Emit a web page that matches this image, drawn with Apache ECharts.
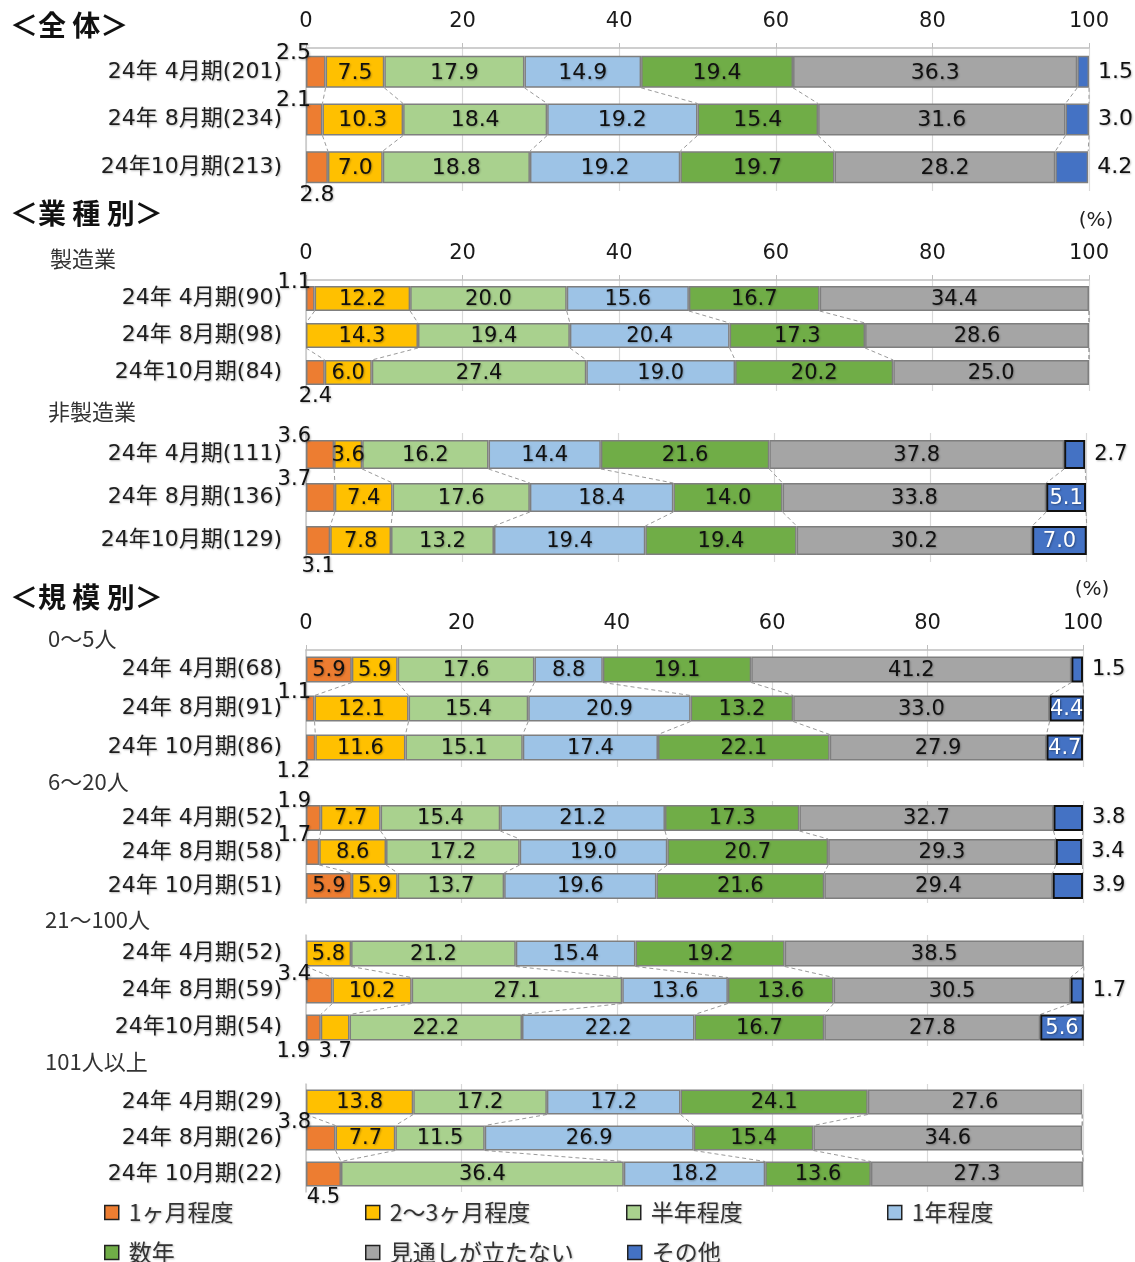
<!DOCTYPE html>
<html>
<head>
<meta charset="utf-8">
<script src="https://cdn.jsdelivr.net/npm/echarts@6/dist/echarts.min.js"></script>
<style>
  html, body { margin: 0; padding: 0; background: #fff; }
  #chart { width: 1135px; height: 1262px; }
</style>
</head>
<body>
<div id="chart"></div>
<script>
// 回答区分
const seriesNames = ['1ヶ月程度', '2〜3ヶ月程度', '半年程度', '1年程度', '数年', '見通しが立たない', 'その他'];
const seriesColors = ['#ED7D31', '#FFC000', '#A9D18E', '#9DC3E6', '#70AD47', '#A5A5A5', '#4472C4'];

// 全体
const catsAll = ['24年 4月期(201)', '24年 8月期(234)', '24年10月期(213)'];
const valsAll = [
  [2.5, 7.5, 17.9, 14.9, 19.4, 36.3, 1.5],
  [2.1, 10.3, 18.4, 19.2, 15.4, 31.6, 3.0],
  [2.8, 7.0, 18.8, 19.2, 19.7, 28.2, 4.2]
];

// 業種別
const catsMfg = ['24年 4月期(90)', '24年 8月期(98)', '24年10月期(84)'];
const valsMfg = [
  [1.1, 12.2, 20.0, 15.6, 16.7, 34.4, 0],
  [0, 14.3, 19.4, 20.4, 17.3, 28.6, 0],
  [2.4, 6.0, 27.4, 19.0, 20.2, 25.0, 0]
];
const catsNonMfg = ['24年 4月期(111)', '24年 8月期(136)', '24年10月期(129)'];
const valsNonMfg = [
  [3.6, 3.6, 16.2, 14.4, 21.6, 37.8, 2.7],
  [3.7, 7.4, 17.6, 18.4, 14.0, 33.8, 5.1],
  [3.1, 7.8, 13.2, 19.4, 19.4, 30.2, 7.0]
];

// 規模別
const catsS1 = ['24年 4月期(68)', '24年 8月期(91)', '24年 10月期(86)'];
const valsS1 = [
  [5.9, 5.9, 17.6, 8.8, 19.1, 41.2, 1.5],
  [1.1, 12.1, 15.4, 20.9, 13.2, 33.0, 4.4],
  [1.2, 11.6, 15.1, 17.4, 22.1, 27.9, 4.7]
];
const catsS2 = ['24年 4月期(52)', '24年 8月期(58)', '24年 10月期(51)'];
const valsS2 = [
  [1.9, 7.7, 15.4, 21.2, 17.3, 32.7, 3.8],
  [1.7, 8.6, 17.2, 19.0, 20.7, 29.3, 3.4],
  [5.9, 5.9, 13.7, 19.6, 21.6, 29.4, 3.9]
];
const catsS3 = ['24年 4月期(52)', '24年 8月期(59)', '24年10月期(54)'];
const valsS3 = [
  [0, 5.8, 21.2, 15.4, 19.2, 38.5, 0],
  [3.4, 10.2, 27.1, 13.6, 13.6, 30.5, 1.7],
  [1.9, 3.7, 22.2, 22.2, 16.7, 27.8, 5.6]
];
const catsS4 = ['24年 4月期(29)', '24年 8月期(26)', '24年 10月期(22)'];
const valsS4 = [
  [0, 13.8, 17.2, 17.2, 24.1, 27.6, 0],
  [3.8, 7.7, 11.5, 26.9, 15.4, 34.6, 0],
  [4.5, 0, 36.4, 18.2, 13.6, 27.3, 0]
];

const axisTicks = [0, 20, 40, 60, 80, 100];

// panel layout
const panels = [
  { cats: catsAll,    vals: valsAll,    top: 48,   height: 143, barW: 32, axis: true,  right: 46, fs: 22, darkOther: false },
  { cats: catsMfg,    vals: valsMfg,    top: 280,  height: 111, barW: 25, axis: true,  right: 46, fs: 21, darkOther: true },
  { cats: catsNonMfg, vals: valsNonMfg, top: 433,  height: 129, barW: 29, axis: false, right: 49, fs: 21, darkOther: true },
  { cats: catsS1,     vals: valsS1,     top: 650,  height: 117, barW: 26, axis: true,  right: 52, fs: 21, darkOther: true },
  { cats: catsS2,     vals: valsS2,     top: 801,  height: 102, barW: 26, axis: false, right: 52, fs: 21, darkOther: true },
  { cats: catsS3,     vals: valsS3,     top: 935,  height: 111, barW: 26, axis: false, right: 52, fs: 21, darkOther: true },
  { cats: catsS4,     vals: valsS4,     top: 1084, height: 108, barW: 25, axis: false, right: 52, fs: 21, darkOther: true }
];

// labels placed under the bar regardless of the default rule
const labelModeOverride = { '5-2-1': 'below' };

const NUM_FONT = '"DejaVu Sans", "Noto Sans CJK JP", sans-serif';
const JP_FONT = '"Noto Sans CJK JP", sans-serif';
const txtShadow = { textShadowColor: 'rgba(0,0,0,0.28)', textShadowBlur: 2, textShadowOffsetX: 1, textShadowOffsetY: 1 };

function labelMode(p, r, s, v, isLast) {
  const key = p + '-' + r + '-' + s;
  if (labelModeOverride[key]) return labelModeOverride[key];
  if (s === 0) return v >= 5 ? 'inside' : (isLast ? (v < 2 ? 'belowLeft' : 'below') : 'above');
  if (s === 6) return v >= 4.3 ? 'insideWhite' : 'right';
  return 'inside';
}

function labelFor(mode, fs) {
  const base = Object.assign({ show: true, fontFamily: NUM_FONT, fontSize: fs, color: '#111111',
    formatter: (d) => Number(d.value).toFixed(1) }, txtShadow);
  switch (mode) {
    case 'inside': return Object.assign(base, { position: 'inside', offset: [0, 1] });
    case 'insideWhite': return Object.assign(base, { position: 'inside', offset: [0, 1], color: '#ffffff', textShadowColor: 'rgba(0,0,0,0.35)' });
    case 'right': return Object.assign(base, { position: 'right', distance: 9 });
    case 'above': return Object.assign(base, { position: [5, -3], align: 'right', verticalAlign: 'middle' });
    case 'below': return Object.assign(base, { position: 'bottom', distance: 1 });
    case 'belowLeft': return Object.assign(base, { position: [4, '100%'], align: 'right', verticalAlign: 'top', offset: [0, 1] });
  }
  return base;
}

const grids = [], xAxes = [], yAxes = [], series = [];

panels.forEach((p, pi) => {
  grids.push({ left: 306, right: p.right, top: p.top, height: p.height, containLabel: false });
  xAxes.push({
    gridIndex: pi, type: 'value', min: 0, max: 100, interval: 20, position: 'top',
    axisLine: { show: p.axis, lineStyle: { color: '#bfbfbf', width: 1.5 } },
    axisTick: { show: p.axis, length: 5, lineStyle: { color: '#bfbfbf' } },
    axisLabel: { show: p.axis, margin: 16, fontFamily: NUM_FONT, fontSize: 21, color: '#1a1a1a',
      formatter: (v) => axisTicks.includes(v) ? String(v) : '' },
    splitLine: { show: true, lineStyle: { color: '#d9d9d9', width: 1.2 } }
  });
  yAxes.push({
    gridIndex: pi, type: 'category', data: p.cats, inverse: true,
    axisLine: { show: true, lineStyle: { color: '#c8c8c8', width: 1.5 } },
    axisTick: { show: false },
    axisLabel: Object.assign({ margin: 24, fontFamily: NUM_FONT, fontSize: 22, color: '#1e1e1e' }, txtShadow)
  });

  const n = p.vals.length;
  seriesNames.forEach((name, s) => {
    series.push({
      name, type: 'bar', stack: 'panel' + pi, xAxisIndex: pi, yAxisIndex: pi,
      barWidth: p.barW, z: 3,
      itemStyle: {
        color: seriesColors[s],
        borderColor: (s === 6 && p.darkOther) ? '#111111' : '#7f7f7f',
        borderWidth: (s === 6 && p.darkOther) ? 2 : 1.5
      },
      emphasis: { disabled: true },
      data: p.vals.map((row, r) => {
        const v = row[s];
        if (!v) return { value: '-', label: { show: false } };
        return { value: v, label: labelFor(labelMode(pi, r, s, v, r === n - 1), p.fs) };
      })
    });
  });

  // dashed series lines joining segment boundaries of adjacent bars
  const cum = p.vals.map(row => { let a = 0; return row.map(v => (a += v)); });
  series.push({
    type: 'custom', xAxisIndex: pi, yAxisIndex: pi, silent: true, z: 2,
    data: p.vals.slice(0, -1).map((_, i) => [0, i]),
    renderItem: (params, api) => {
      const i = params.dataIndex;
      const half = p.barW / 2;
      const yTop = api.coord([0, i])[1] + half;
      const yBot = api.coord([0, i + 1])[1] - half;
      const children = cum[i].map((xa, k) => ({
        type: 'line',
        shape: { x1: api.coord([xa, i])[0], y1: yTop, x2: api.coord([cum[i + 1][k], i + 1])[0], y2: yBot },
        style: { stroke: '#9a9a9a', lineWidth: 1, lineDash: [4, 3] }
      }));
      return { type: 'group', children };
    }
  });
});

// legend, one block per entry
const legendSpots = [[104, 1201], [365, 1201], [626, 1201], [887, 1201], [104, 1241], [365, 1241], [627, 1241]];
const legends = seriesNames.map((name, i) => ({
  data: [name], left: legendSpots[i][0], top: legendSpots[i][1], padding: 0,
  icon: 'rect', itemWidth: 14, itemHeight: 14, selectedMode: false,
  itemStyle: { borderColor: '#222', borderWidth: 1.5 },
  textStyle: Object.assign({ fontFamily: JP_FONT, fontSize: 23, color: '#333', padding: [0, 0, 0, 5] }, txtShadow)
}));

// section headings and group captions
const headings = [
  { text: '＜全 体＞', x: 10, y: 25, bold: true },
  { text: '＜業 種 別＞', x: 10, y: 213, bold: true },
  { text: '＜規 模 別＞', x: 10, y: 597, bold: true },
  { text: '製造業', x: 50, y: 259 },
  { text: '非製造業', x: 48, y: 412 },
  { text: '0〜5人', x: 48, y: 639 },
  { text: '6〜20人', x: 48, y: 782 },
  { text: '21〜100人', x: 45, y: 920 },
  { text: '101人以上', x: 45, y: 1062 }
];
const graphics = headings.map(h => ({
  type: 'text', x: h.x, y: h.y, silent: true,
  style: Object.assign({
    text: h.text,
    font: h.bold ? 'bold 28px "Noto Sans CJK JP"' : '22px "Noto Sans CJK JP", "DejaVu Sans"',
    fill: h.bold ? '#111' : '#333', verticalAlign: 'middle', align: 'left'
  }, h.bold ? {} : { shadowColor: 'rgba(0,0,0,0.25)', shadowBlur: 2 })
}));
[[1096, 221], [1092, 590]].forEach(([x, y]) => graphics.push({
  type: 'text', x, y, silent: true,
  style: { text: '(%)', font: '20px "DejaVu Sans"', fill: '#222', verticalAlign: 'middle', align: 'center' }
}));

const chart = echarts.init(document.getElementById('chart'), null, { renderer: 'canvas' });
chart.setOption({
  animation: false,
  backgroundColor: '#ffffff',
  grid: grids,
  xAxis: xAxes,
  yAxis: yAxes,
  legend: legends,
  graphic: graphics,
  series
});
</script>
</body>
</html>
